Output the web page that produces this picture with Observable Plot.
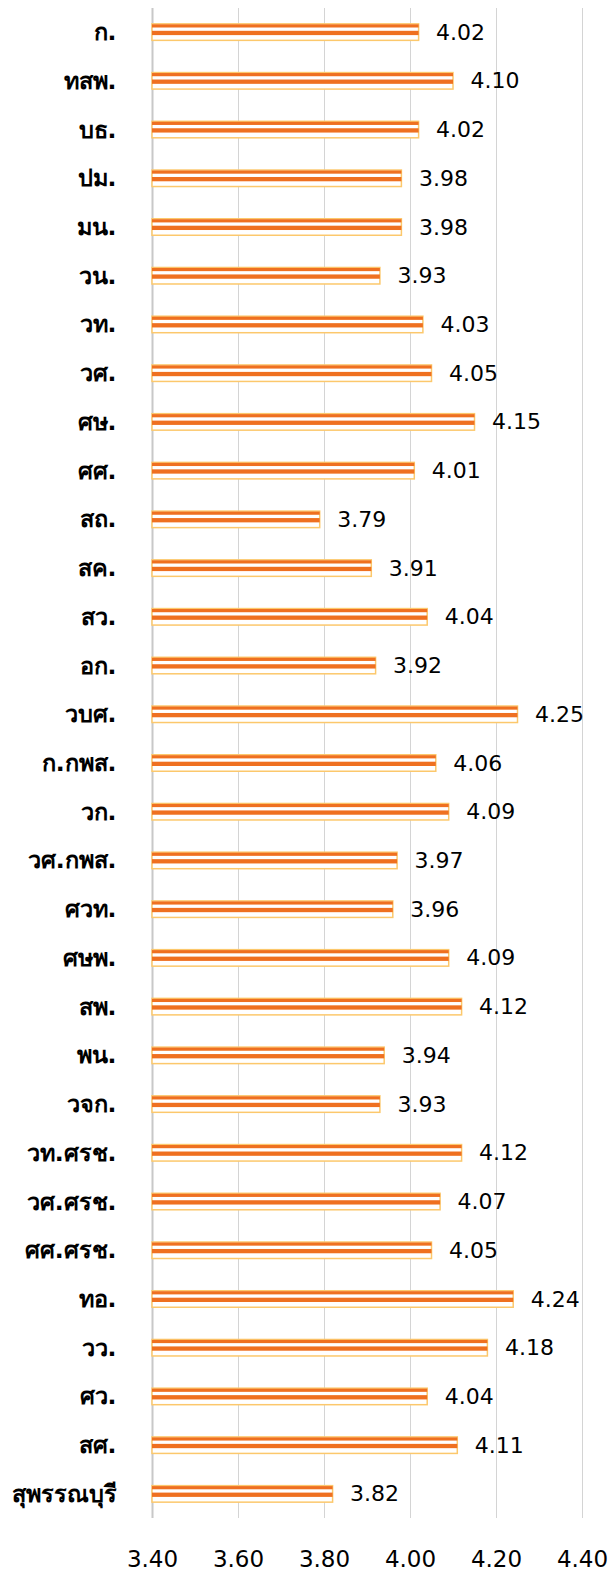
<!DOCTYPE html>
<html>
<head>
<meta charset="utf-8">
<script src="https://cdn.jsdelivr.net/npm/d3@7"></script>
<script src="https://cdn.jsdelivr.net/npm/@observablehq/plot@0.6"></script>
<style>
  html, body { margin: 0; padding: 0; background: #fff; }
  #chart svg { display: block; }
</style>
</head>
<body>
<div id="chart"></div>
<script>
const categories = ["ก.", "ทสพ.", "บธ.", "ปม.", "มน.", "วน.", "วท.", "วศ.", "ศษ.", "ศศ.", "สถ.", "สค.", "สว.", "อก.", "วบศ.", "ก.กพส.", "วก.", "วศ.กพส.", "ศวท.", "ศษพ.", "สพ.", "พน.", "วจก.", "วท.ศรช.", "วศ.ศรช.", "ศศ.ศรช.", "ทอ.", "วว.", "ศว.", "สศ.", "สุพรรณบุรี"];
const values = [4.02, 4.10, 4.02, 3.98, 3.98, 3.93, 4.03, 4.05, 4.15, 4.01, 3.79, 3.91, 4.04, 3.92, 4.25, 4.06, 4.09, 3.97, 3.96, 4.09, 4.12, 3.94, 3.93, 4.12, 4.07, 4.05, 4.24, 4.18, 4.04, 4.11, 3.82];
const xTicks = [3.40, 3.60, 3.80, 4.00, 4.20, 4.40];
const xMin = 3.40, xMax = 4.40;

const data = categories.map((c, i) => ({category: c, value: values[i]}));
const font = "'DejaVu Sans', Tahoma, Verdana, sans-serif";

const chart = Plot.plot({
  width: 610,
  height: 1573,
  marginTop: 8,
  marginBottom: 55,
  marginLeft: 152,
  marginRight: 28,
  style: {fontFamily: font, background: "#fff"},
  x: {domain: [xMin, xMax]},
  y: {domain: categories, paddingInner: 0.6306, paddingOuter: 0.31, round: false},
  marks: [
    Plot.gridX(xTicks, {stroke: "#d4d4d4", strokeOpacity: 1, strokeWidth: 1}),
    Plot.ruleX([xMin], {stroke: "#c8c8c8", strokeWidth: 2}),
    Plot.barX(data, {x1: xMin, x2: "value", y: "category", fill: "#ffffff", stroke: "#fcc86c", strokeWidth: 1.5, insetTop: 0.75, insetBottom: 0.75}),
    Plot.barX(data, {x1: xMin, x2: "value", y: "category", fill: "#ef7020", insetTop: 1.2, insetBottom: 13.6}),
    Plot.barX(data, {x1: xMin, x2: "value", y: "category", fill: "#ef7020", insetTop: 7.7, insetBottom: 6}),
    Plot.text(data, {x: "value", y: "category", text: d => d.value.toFixed(2), dx: 17, textAnchor: "start", fontSize: 22, fill: "#000"}),
    Plot.axisY({tickSize: 0, tickPadding: 36, fontSize: 23.5, fontWeight: "bold", label: null, color: "#000"}),
    Plot.axisX(xTicks, {tickSize: 0, tickPadding: 32, fontSize: 23, label: null, tickFormat: d => d.toFixed(2), color: "#000"})
  ]
});
document.getElementById("chart").appendChild(chart);
</script>
</body>
</html>
